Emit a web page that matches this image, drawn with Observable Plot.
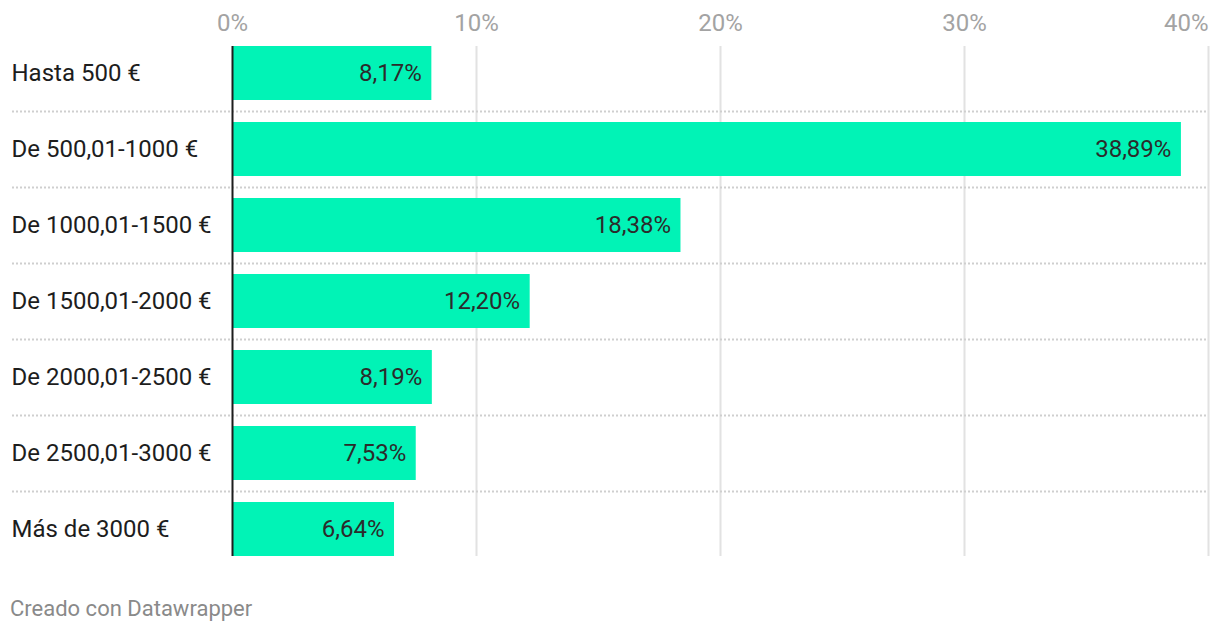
<!DOCTYPE html>
<html>
<head>
<meta charset="utf-8">
<script src="https://cdn.jsdelivr.net/npm/d3@7"></script>
<script src="https://cdn.jsdelivr.net/npm/@observablehq/plot@0.6"></script>
<style>
  html, body { margin: 0; padding: 0; background: #fff; }
  body { width: 1220px; height: 632px; position: relative; overflow: hidden; font-family: Roboto, sans-serif; }
  #chart { position: absolute; left: 0; top: 0; }
  #caption { position: absolute; left: 10px; top: 596px; font-size: 22px; line-height: 26px; color: #8a8a8a; font-family: Roboto, sans-serif; }
</style>
</head>
<body>
<div id="chart"></div>
<div id="caption">Creado con Datawrapper</div>
<script>
const categories = ["Hasta 500 €", "De 500,01-1000 €", "De 1000,01-1500 €", "De 1500,01-2000 €", "De 2000,01-2500 €", "De 2500,01-3000 €", "Más de 3000 €"];
const values = [8.17, 38.89, 18.38, 12.20, 8.19, 7.53, 6.64];
const xTicks = [0, 10, 20, 30, 40];

const data = categories.map((c, i) => ({cat: c, value: values[i]}));
const fmt = v => v.toFixed(2).replace(".", ",") + "%";
const lastTick = xTicks[xTicks.length - 1];

const chart = Plot.plot({
  width: 1220,
  height: 580,
  marginTop: 35,
  marginBottom: 13,
  marginLeft: 12,
  marginRight: 12,
  style: {fontFamily: "Roboto, sans-serif", fontSize: "24px", background: "transparent"},
  x: {domain: [0, 40], range: [232, 1208], axis: null},
  y: {domain: categories, padding: 0, axis: null},
  marks: [
    Plot.ruleX(xTicks.filter(t => t !== 0), {stroke: "#e2e2e2", strokeWidth: 2, insetTop: 11, insetBottom: 11}),
    Plot.ruleY(categories.slice(1), {y: d => d, dy: -38, stroke: "#cfcfcf", strokeWidth: 2, strokeDasharray: "2,2"}),
    Plot.barX(data, {y: "cat", x: "value", fill: "#01f3b6", insetTop: 11, insetBottom: 11}),
    Plot.ruleX([0], {stroke: "#1d1d1d", strokeWidth: 2, insetTop: 11, insetBottom: 11}),
    Plot.text(data, {y: "cat", x: "value", text: d => fmt(d.value), textAnchor: "end", dx: -10, fill: "#2b2b2b"}),
    Plot.text(data, {y: "cat", text: "cat", frameAnchor: "left", textAnchor: "start", dx: -1, fill: "#1d1d1d"}),
    Plot.text(xTicks.filter(t => t !== lastTick), {x: d => d, text: d => d + "%", frameAnchor: "top", lineAnchor: "bottom", dy: -4.5, textAnchor: "middle", fill: "#a3a3a3"}),
    Plot.text([lastTick], {x: d => d, text: d => d + "%", frameAnchor: "top", lineAnchor: "bottom", dy: -4.5, textAnchor: "end", fill: "#a3a3a3"})
  ]
});
document.getElementById("chart").appendChild(chart);
</script>
</body>
</html>
